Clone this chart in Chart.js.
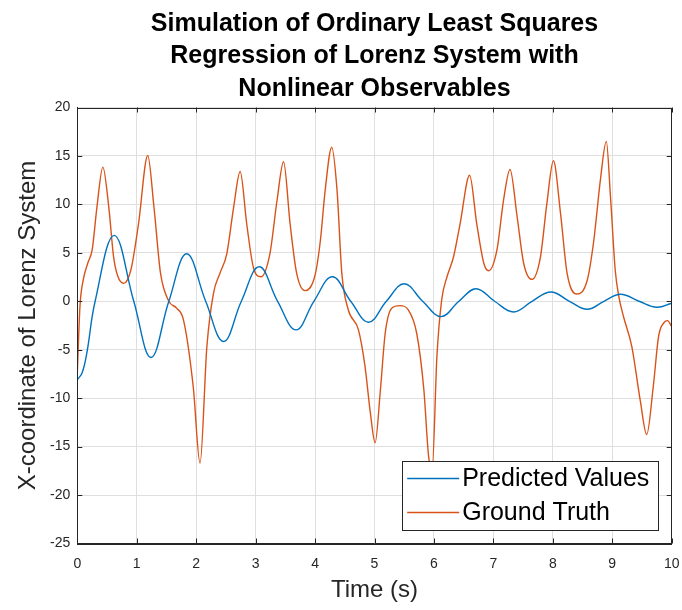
<!DOCTYPE html>
<html>
<head>
<meta charset="utf-8">
<script src="https://cdn.jsdelivr.net/npm/chart.js@4/dist/chart.umd.min.js"></script>
<style>
  html, body { margin: 0; padding: 0; background: #ffffff; }
  #wrap { width: 682px; height: 610px; }
</style>
</head>
<body>
<div id="wrap"><canvas id="c" width="682" height="610"></canvas></div>
<script>
// ---- Data ----
const titleLines = ["Simulation of Ordinary Least Squares", "Regression of Lorenz System with", "Nonlinear Observables"];
const xAxisTitle = "Time (s)";
const yAxisTitle = "X-coordinate of Lorenz System";
const seriesNames = ["Predicted Values", "Ground Truth"];

const xTickValues = [0, 1, 2, 3, 4, 5, 6, 7, 8, 9, 10];
const yTickValues = [-25, -20, -15, -10, -5, 0, 5, 10, 15, 20];

const predTime = [0, 0.08, 0.16, 0.3, 0.62, 0.95, 1.24, 1.54, 1.84, 2.16, 2.46, 2.76, 3.06, 3.37, 3.68, 3.98, 4.29, 4.6, 4.9, 5.2, 5.5, 5.81, 6.12, 6.42, 6.71, 7.02, 7.34, 7.65, 7.97, 8.28, 8.58, 8.86, 9.14, 9.45, 9.75, 10];
const predValue = [-8.1, -7.4, -5.35, 0, 6.8, 0, -5.8, 0, 4.9, 0, -4.15, 0, 3.56, 0, -2.95, 0, 2.53, 0, -2.16, 0, 1.81, 0, -1.58, 0, 1.3, 0, -1.1, 0, 0.96, 0, -0.83, 0, 0.72, 0, -0.62, -0.2];

const truthTime = [0, 0.045, 0.1, 0.18, 0.25, 0.33, 0.43, 0.53, 0.61, 0.68, 0.78, 0.9, 1.03, 1.185, 1.29, 1.4, 1.54, 1.67, 1.785, 1.95, 2.065, 2.18, 2.29, 2.4, 2.515, 2.63, 2.74, 2.85, 2.96, 3.09, 3.24, 3.36, 3.47, 3.58, 3.69, 3.83, 4.0, 4.09, 4.17, 4.28, 4.37, 4.45, 4.56, 4.73, 4.84, 4.93, 5.01, 5.1, 5.18, 5.29, 5.43, 5.57, 5.71, 5.83, 5.91, 5.97, 6.05, 6.13, 6.22, 6.33, 6.44, 6.6, 6.72, 6.84, 6.92, 7.06, 7.17, 7.28, 7.4, 7.51, 7.65, 7.79, 7.9, 8.01, 8.13, 8.24, 8.4, 8.58, 8.69, 8.8, 8.9, 8.97, 9.05, 9.11, 9.19, 9.33, 9.47, 9.58, 9.69, 9.78, 9.87, 9.93, 10];
const truthValue = [-7.4, -0.5, 2.2, 4.0, 5.3, 9.7, 13.85, 9.7, 4.6, 2.6, 1.85, 3.2, 8.0, 15.05, 9.7, 2.9, 0.0, -0.7, -1.9, -8.8, -16.7, -4.67, 0.8, 2.9, 4.9, 9.7, 13.4, 8.0, 3.56, 2.53, 4.9, 10.4, 14.4, 8.0, 2.9, 1.1, 2.7, 6.3, 11.45, 15.9, 11.45, 2.9, -0.9, -2.95, -6.7, -11.5, -14.6, -9.1, -3.3, -0.72, -0.45, -0.9, -3.3, -9.1, -16.0, -17.3, -5.7, 0.13, 2.53, 4.6, 8.0, 13.0, 8.0, 3.9, 3.15, 5.3, 10.4, 13.6, 8.7, 3.9, 2.26, 4.5, 10.1, 14.5, 9.05, 2.9, 0.75, 2.2, 6.3, 12.5, 16.5, 10.8, 3.2, 0.5, -1.6, -4.7, -10.2, -13.75, -8.8, -3.6, -2.2, -2.0, -2.6];

// ---- Styling ----
const FONT = "'Liberation Sans', Arial, Helvetica, sans-serif";
const AXIS_COLOR = '#262626';
const GRID_COLOR = '#dfdfdf';
const BLUE = '#0072BD';
const ORANGE = '#D95319';

const toPoints = (xs, ys) => xs.map((x, i) => ({ x: x, y: ys[i] }));

// Box border + inward ticks on all four sides (MATLAB style)
const boxPlugin = {
  id: 'boxPlugin',
  afterDatasetsDraw(chart) {
    const { ctx, chartArea: a, scales } = chart;
    const L = 5;
    ctx.save();
    ctx.strokeStyle = AXIS_COLOR;
    ctx.lineWidth = 1;
    ctx.beginPath();
    xTickValues.forEach(v => {
      const px = Math.round(scales.x.getPixelForValue(v)) + 0.5;
      ctx.moveTo(px, a.bottom); ctx.lineTo(px, a.bottom - L);
      ctx.moveTo(px, a.top); ctx.lineTo(px, a.top + L);
    });
    yTickValues.forEach(v => {
      const py = Math.round(scales.y.getPixelForValue(v)) + 0.5;
      ctx.moveTo(a.left, py); ctx.lineTo(a.left + L, py);
      ctx.moveTo(a.right, py); ctx.lineTo(a.right - L, py);
    });
    ctx.stroke();
    ctx.strokeRect(Math.round(a.left) + 0.5, Math.round(a.top) + 0.5, Math.round(a.right - a.left), Math.round(a.bottom - a.top));
    ctx.restore();
  }
};

// Legend box inside the plot, lower right, drawn above the data
const legendPlugin = {
  id: 'legendBox',
  afterDatasetsDraw(chart) {
    const { ctx, chartArea: a } = chart;
    const right = a.right - 13.5;
    const bottom = a.bottom - 13.5;
    const w = 256, h = 69;
    const left = right - w, top = bottom - h;
    ctx.save();
    ctx.fillStyle = '#ffffff';
    ctx.fillRect(left, top, w, h);
    ctx.strokeStyle = AXIS_COLOR;
    ctx.lineWidth = 1;
    ctx.strokeRect(Math.round(left) + 0.5, Math.round(top) + 0.5, Math.round(w), Math.round(h));
    ctx.font = '25px ' + FONT;
    ctx.textBaseline = 'middle';
    ctx.textAlign = 'left';
    chart.data.datasets.forEach((ds, i) => {
      const y = top + 17.5 + i * 34;
      ctx.strokeStyle = ds.borderColor;
      ctx.lineWidth = 1.4;
      ctx.beginPath();
      ctx.moveTo(left + 5, y);
      ctx.lineTo(left + 57, y);
      ctx.stroke();
      ctx.fillStyle = '#000000';
      ctx.fillText(ds.label, left + 60, y + 1);
    });
    ctx.restore();
  }
};

new Chart(document.getElementById('c'), {
  type: 'line',
  data: {
    datasets: [
      {
        label: seriesNames[0],
        data: toPoints(predTime, predValue),
        borderColor: BLUE,
        borderWidth: 1.4,
        pointRadius: 0,
        fill: false,
        tension: 0.4
      },
      {
        label: seriesNames[1],
        data: toPoints(truthTime, truthValue),
        borderColor: ORANGE,
        borderWidth: 1.4,
        pointRadius: 0,
        fill: false,
        cubicInterpolationMode: 'monotone'
      }
    ]
  },
  options: {
    responsive: false,
    animation: false,
    layout: { padding: { left: 0, right: 10.3, top: 0, bottom: 0 } },
    plugins: {
      legend: { display: false },
      tooltip: { enabled: false },
      title: {
        display: true,
        text: titleLines,
        fullSize: false,
        color: '#000000',
        font: { family: FONT, size: 25, weight: 'bold', lineHeight: 1.3 },
        padding: { top: 7.5, bottom: 2.5 }
      }
    },
    scales: {
      x: {
        type: 'linear',
        min: 0,
        max: 10,
        afterBuildTicks: s => { s.ticks = xTickValues.map(v => ({ value: v })); },
        afterFit: s => { s.height = 66.5; s.paddingLeft = 0; s.paddingRight = 0; },
        grid: { color: GRID_COLOR, lineWidth: 1, drawTicks: false },
        border: { display: true, color: AXIS_COLOR, width: 1 },
        ticks: {
          color: AXIS_COLOR,
          padding: 12,
          maxRotation: 0,
          font: { family: FONT, size: 14 }
        },
        title: {
          display: true,
          text: xAxisTitle,
          color: AXIS_COLOR,
          font: { family: FONT, size: 24 },
          padding: { top: 0, bottom: 5.6 }
        }
      },
      y: {
        type: 'linear',
        min: -25,
        max: 20,
        afterBuildTicks: s => { s.ticks = yTickValues.map(v => ({ value: v })); },
        afterFit: s => { s.width = 77.3; s.paddingTop = 0; s.paddingBottom = 0; },
        grid: { color: GRID_COLOR, lineWidth: 1, drawTicks: false },
        border: { display: true, color: AXIS_COLOR, width: 1 },
        ticks: {
          color: AXIS_COLOR,
          padding: 7,
          font: { family: FONT, size: 14 }
        },
        title: {
          display: true,
          text: yAxisTitle,
          color: AXIS_COLOR,
          font: { family: FONT, size: 24 },
          padding: { top: 13.6, bottom: 0 }
        }
      }
    }
  },
  plugins: [boxPlugin, legendPlugin]
});
</script>
</body>
</html>
